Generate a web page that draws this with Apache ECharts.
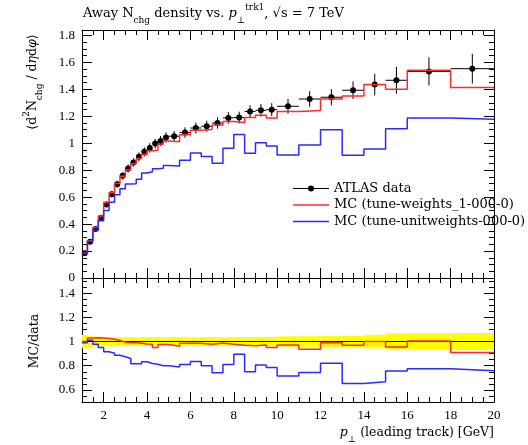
<!DOCTYPE html>
<html>
<head>
<meta charset="utf-8">
<script src="https://cdn.jsdelivr.net/npm/echarts@6/dist/echarts.min.js"></script>
<style>
  html, body { margin: 0; padding: 0; background: #fff; }
  #chart { width: 528px; height: 445px; }
</style>
</head>
<body>
<div id="chart"></div>
<script>
// bin edges, p_T of leading track [GeV]
const binEdges = [1, 1.25, 1.5, 1.75, 2, 2.25, 2.5, 2.75, 3, 3.25, 3.5, 3.75, 4, 4.25, 4.5, 4.75, 5,
  5.5, 6, 6.5, 7, 7.5, 8, 8.5, 9, 9.5, 10, 11, 12, 13, 14, 15, 16, 18, 20];

// ATLAS data (away region N_chg density) and its uncertainty
const atlasData = [0.183, 0.269, 0.363, 0.447, 0.546, 0.622, 0.696, 0.758, 0.812, 0.857,
  0.899, 0.936, 0.965, 0.997, 1.017, 1.042, 1.052, 1.079, 1.113, 1.126,
  1.150, 1.188, 1.190, 1.235, 1.244, 1.249, 1.274, 1.328, 1.341, 1.393,
  1.435, 1.467, 1.533, 1.553];
const atlasErr = [0.010, 0.012, 0.015, 0.018, 0.021, 0.024, 0.026, 0.028, 0.030, 0.031,
  0.033, 0.034, 0.035, 0.036, 0.037, 0.038, 0.038, 0.039, 0.040, 0.041,
  0.042, 0.043, 0.044, 0.046, 0.047, 0.048, 0.054, 0.058, 0.060, 0.066,
  0.080, 0.100, 0.105, 0.110];

// MC predictions
const mcWeights = [0.183, 0.277, 0.374, 0.460, 0.560, 0.634, 0.702, 0.754, 0.804, 0.848,
  0.886, 0.917, 0.944, 0.947, 0.992, 1.016, 1.010, 1.063, 1.096, 1.101,
  1.135, 1.162, 1.154, 1.191, 1.207, 1.187, 1.236, 1.242, 1.328, 1.351,
  1.435, 1.401, 1.541, 1.413];
const mcUnit = [0.181, 0.272, 0.355, 0.425, 0.500, 0.562, 0.617, 0.663, 0.698, 0.700,
  0.733, 0.779, 0.789, 0.810, 0.814, 0.834, 0.831, 0.874, 0.928, 0.901,
  0.852, 0.962, 1.065, 0.926, 1.003, 0.980, 0.912, 0.987, 1.100, 0.910,
  0.957, 1.108, 1.187, 1.177];

const seriesNames = ['ATLAS data', 'MC (tune-weights_1-000-0)', 'MC (tune-unitweights-000-0)'];

// tick labels
const xMajorTicks = [2, 4, 6, 8, 10, 12, 14, 16, 18, 20];
const yMainTicks = [0, 0.2, 0.4, 0.6, 0.8, 1, 1.2, 1.4, 1.6, 1.8];
const yRatioTicks = [0.6, 0.8, 1, 1.2, 1.4];

const FONT = 'Liberation Serif';
const TFONT = 'DejaVu Serif';
const RED = '#ff2a2a';
const BLUE = '#2a2aff';

function steps(from, to, step) {
  const out = [];
  for (let v = from; v <= to + 1e-9; v += step) out.push(Math.round(v * 1000) / 1000);
  return out;
}
const xMinorTicks = steps(1, 20, 0.5);
const yMainMinor = steps(0, 1.84, 0.05);
const yRatioMinor = steps(0.5, 1.5, 0.05);

// step line points from bin values
function stepPoints(vals) {
  return binEdges.map((e, i) => [e, vals[Math.min(i, vals.length - 1)]]);
}
const ratioWeights = mcWeights.map((v, i) => v / atlasData[i]);
const ratioUnit = mcUnit.map((v, i) => v / atlasData[i]);

const pointData = atlasData.map((v, i) => [binEdges[i], binEdges[i + 1], v, atlasErr[i]]);
const bandData = atlasData.map((v, i) => [binEdges[i], binEdges[i + 1], atlasErr[i] / v]);

const black = { color: '#000', width: 1 };

function xAxesFor(grid, labels) {
  const base = { type: 'value', gridIndex: grid, min: 1, max: 20, splitLine: { show: false } };
  const mk = (pos, major) => ({
    ...base,
    position: pos,
    axisLine: { show: major, onZero: false, lineStyle: black },
    axisTick: { show: true, inside: true, length: major ? 10 : 5, customValues: major ? xMajorTicks : xMinorTicks, lineStyle: black },
    axisLabel: {
      show: labels && major && pos === 'bottom', customValues: xMajorTicks, margin: 7,
      fontFamily: FONT, fontSize: 13, color: '#000'
    }
  });
  return [mk('bottom', true), mk('bottom', false), mk('top', true), mk('top', false)];
}

function yAxesFor(grid, min, max, major, minor) {
  const base = { type: 'value', gridIndex: grid, min, max, splitLine: { show: false } };
  const mk = (pos, isMajor) => ({
    ...base,
    position: pos,
    axisLine: { show: isMajor, onZero: false, lineStyle: black },
    axisTick: { show: true, inside: true, length: isMajor ? 10 : 5, customValues: isMajor ? major : minor, lineStyle: black },
    axisLabel: {
      show: isMajor && pos === 'left', customValues: major, margin: 7,
      fontFamily: FONT, fontSize: 13, color: '#000'
    }
  });
  return [mk('left', true), mk('left', false), mk('right', true), mk('right', false)];
}

function renderPoint(params, api) {
  const lo = api.value(0), hi = api.value(1), y = api.value(2), e = api.value(3);
  const mid = (lo + hi) / 2;
  const a = api.coord([lo, y]), b = api.coord([hi, y]);
  const t = api.coord([mid, y + e]), d = api.coord([mid, y - e]);
  const c = api.coord([mid, y]);
  return {
    type: 'group',
    children: [
      { type: 'line', shape: { x1: a[0], y1: a[1], x2: b[0], y2: b[1] }, style: { stroke: '#000', lineWidth: 1 } },
      { type: 'line', shape: { x1: t[0], y1: t[1], x2: d[0], y2: d[1] }, style: { stroke: '#000', lineWidth: 1 } },
      { type: 'circle', shape: { cx: c[0], cy: c[1], r: 3 }, style: { fill: '#000' } }
    ]
  };
}

function renderBand(params, api) {
  const lo = api.value(0), hi = api.value(1), r = api.value(2);
  const p1 = api.coord([lo, 1 + r]), p2 = api.coord([hi, 1 - r]);
  return {
    type: 'rect',
    shape: { x: p1[0], y: p1[1], width: p2[0] - p1[0], height: p2[1] - p1[1] },
    style: { fill: '#ffff00' }
  };
}

const rich = {
  n: { fontFamily: TFONT, fontSize: 13, lineHeight: 22, verticalAlign: 'middle', color: '#000' },
  it: { fontFamily: TFONT, fontSize: 13, fontStyle: 'italic', lineHeight: 22, verticalAlign: 'middle', color: '#000' },
  sub: { fontFamily: TFONT, fontSize: 9, lineHeight: 12, verticalAlign: 'bottom', color: '#000' },
  sup: { fontFamily: TFONT, fontSize: 9, lineHeight: 12, verticalAlign: 'top', color: '#000' }
};
const richAx = {
  n: { ...rich.n, fontSize: 12.5 },
  it: { ...rich.it, fontSize: 12.5 },
  sub: { ...rich.sub, fontSize: 9 },
  sup: { ...rich.sup, fontSize: 9 }
};

const dataIcon = 'path://M0,0L0,0M0,4.5L36,4.5L36,5.5L0,5.5ZM15,5A3,3,0,1,1,21,5A3,3,0,1,1,15,5ZM36,10L36,10';
const lineIcon = 'path://M0,0L0,0M0,4.3L36,4.3L36,5.7L0,5.7ZM36,10L36,10';

const chart = echarts.init(document.getElementById('chart'), null, { renderer: 'canvas' });
chart.setOption({
  animation: false,
  backgroundColor: '#fff',
  grid: [
    { left: 82, top: 30, width: 412, height: 248, outerBoundsMode: 'none' },
    { left: 82, top: 278, width: 412, height: 124, outerBoundsMode: 'none' }
  ],
  xAxis: [...xAxesFor(0, false), ...xAxesFor(1, true)],
  yAxis: [...yAxesFor(0, 0, 1.84, yMainTicks, yMainMinor), ...yAxesFor(1, 0.5, 1.525, yRatioTicks, yRatioMinor)],
  legend: {
    orient: 'vertical',
    left: 288,
    top: 177,
    itemWidth: 36,
    itemHeight: 10,
    itemGap: 3.5,
    selectedMode: false,
    textStyle: { fontFamily: TFONT, fontSize: 13, color: '#000' },
    data: [
      { name: seriesNames[0], icon: dataIcon },
      { name: seriesNames[1], icon: lineIcon },
      { name: seriesNames[2], icon: lineIcon }
    ]
  },
  graphic: [
    {
      type: 'text', x: 83, y: 14,
      style: {
        text: '{n|Away N}{sub|chg}{n| density vs. }{it|p}{sub|⊥}{sup|trk1}{n|, √s = 7 TeV}',
        rich, verticalAlign: 'middle', align: 'left'
      }
    },
    {
      type: 'text', x: 33, y: 82, rotation: Math.PI / 2,
      style: {
        text: '{n|⟨d}{sup|2}{n|N}{sub|chg}{n| / d}{it|η}{n|d}{it|φ}{n|⟩}',
        rich: richAx, align: 'center', verticalAlign: 'middle'
      }
    },
    {
      type: 'text', x: 35, y: 341, rotation: Math.PI / 2,
      style: { text: '{n|MC/data}', rich: richAx, align: 'center', verticalAlign: 'middle' }
    },
    {
      type: 'text', x: 494, y: 433,
      style: {
        text: '{it|p}{sub|⊥}{n| (leading track) [GeV]}',
        rich: richAx, align: 'right', verticalAlign: 'middle'
      }
    }
  ],
  series: [
    {
      name: seriesNames[0], type: 'custom', xAxisIndex: 0, yAxisIndex: 0, z: 2,
      itemStyle: { color: '#000' },
      renderItem: renderPoint,
      encode: { x: [0, 1], y: [2] },
      data: pointData
    },
    {
      name: seriesNames[1], type: 'line', step: 'end', xAxisIndex: 0, yAxisIndex: 0, z: 3,
      symbol: 'none', color: RED, lineStyle: { color: RED, width: 1.5 },
      data: stepPoints(mcWeights)
    },
    {
      name: seriesNames[2], type: 'line', step: 'end', xAxisIndex: 0, yAxisIndex: 0, z: 3,
      symbol: 'none', color: BLUE, lineStyle: { color: BLUE, width: 1.5 },
      data: stepPoints(mcUnit)
    },
    // ratio panel
    {
      name: 'band', type: 'custom', xAxisIndex: 4, yAxisIndex: 4, z: 1,
      renderItem: renderBand,
      encode: { x: [0, 1], y: [2] },
      data: bandData
    },
    {
      name: 'unity', type: 'line', xAxisIndex: 4, yAxisIndex: 4, z: 2,
      symbol: 'none', lineStyle: { color: '#000', width: 1 },
      data: [[1, 1], [20, 1]]
    },
    {
      name: seriesNames[1], type: 'line', step: 'end', xAxisIndex: 4, yAxisIndex: 4, z: 3,
      symbol: 'none', color: RED, lineStyle: { color: RED, width: 1.5 },
      data: stepPoints(ratioWeights)
    },
    {
      name: seriesNames[2], type: 'line', step: 'end', xAxisIndex: 4, yAxisIndex: 4, z: 3,
      symbol: 'none', color: BLUE, lineStyle: { color: BLUE, width: 1.5 },
      data: stepPoints(ratioUnit)
    }
  ]
});
</script>
</body>
</html>
